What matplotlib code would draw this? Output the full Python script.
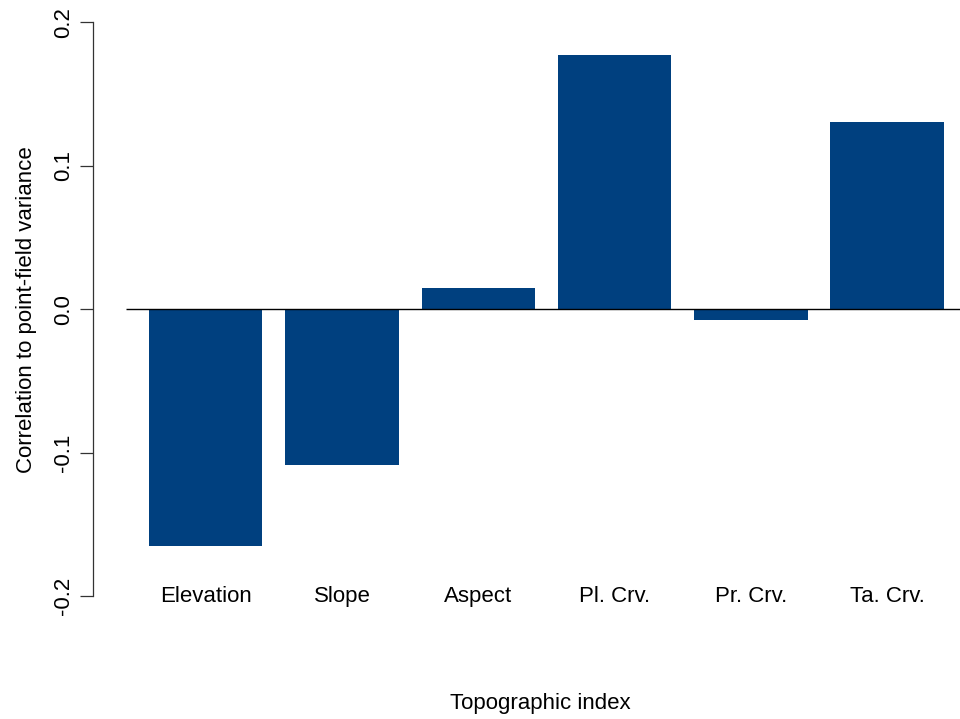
import matplotlib
matplotlib.use("Agg")
import matplotlib.pyplot as plt
import numpy as np

plt.rcParams['font.family'] = ['Liberation Sans', 'DejaVu Sans']

categories = ["Elevation", "Slope", "Aspect", "Pl. Crv.", "Pr. Crv.", "Ta. Crv."]
correlations = [-0.165, -0.1088, 0.0151, 0.1771, -0.0077, 0.1307]
yticks = [-0.2, -0.1, 0.0, 0.1, 0.2]
ytick_labels = ["-0.2", "-0.1", "0.0", "0.1", "0.2"]

W, H = 960, 719
fig = plt.figure(figsize=(W / 100, H / 100), dpi=100)

# axes placed in pixel units
ax_left, ax_right = 93, 960
ax_top, ax_bottom = 22.3, 596.3
ax = fig.add_axes([ax_left / W, 1 - ax_bottom / H,
                   (ax_right - ax_left) / W, (ax_bottom - ax_top) / H])

bar_color = "#00407F"
width = 1.0
space = 0.2
centers = np.array([space + width / 2 + i * (width + space) for i in range(len(categories))])

ax.bar(centers, correlations, width=width, color=bar_color, edgecolor="none")

ax.set_xlim(-0.292, 7.34)
ax.set_ylim(-0.2, 0.2)

# reference line at zero
ax.hlines(0, 0, 7.34, color="black", lw=1.0, zorder=3)

fs = 16
for s in ["top", "right", "bottom"]:
    ax.spines[s].set_visible(False)
ax.spines["left"].set_color("#333333")
ax.spines["left"].set_linewidth(0.9)
ax.set_xticks([])
ax.set_yticks(yticks)
ax.set_yticklabels(ytick_labels, rotation=90, va="center", fontsize=fs)
ax.tick_params(axis="y", length=9.4, width=0.9, color="#333333", pad=4.5)

for c, lab in zip(centers, categories):
    ax.text(c, -0.2, lab, ha="center", va="center", fontsize=fs)

fig.text(540 / W, 1 - 704 / H, "Topographic index", ha="center", va="center", fontsize=fs)
fig.text(27 / W, 1 - 310 / H, "Correlation to point-field variance", ha="center", va="center",
         rotation=90, fontsize=fs)

fig.savefig("out.png", dpi=100, facecolor="white")
